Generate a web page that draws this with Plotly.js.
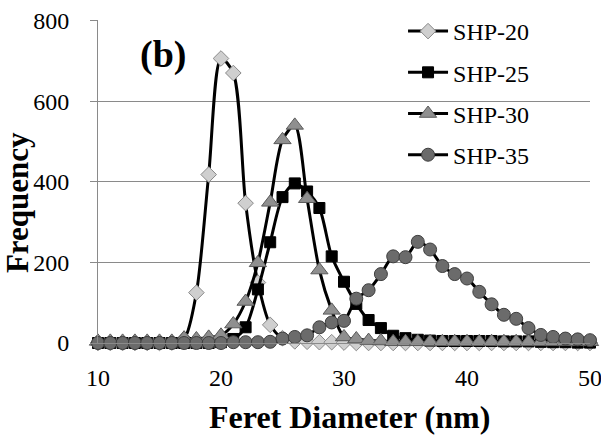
<!DOCTYPE html>
<html>
<head>
<meta charset="utf-8">
<script src="https://cdn.plot.ly/plotly-3.0.1.min.js"></script>
<style>html,body{margin:0;padding:0;background:#fff;}#chart{width:601px;height:438px;}</style>
</head>
<body>
<div id="chart"></div>
<script>
// Feret diameter bins (nm)
const diameter = [10,11,12,13,14,15,16,17,18,19,20,21,22,23,24,25,26,27,28,29,30,31,32,33,34,35,36,37,38,39,40,41,42,43,44,45,46,47,48,49,50];

const shp20 = [0,0,0,0,0,0,1,10,125,418,706,670,347,150,45,12,4,3,2,2,1,0,0,0,0,0,0,0,0,0,0,0,0,0,0,0,0,0,0,0,0];
const shp25 = [0,0,0,0,0,0,0,0,0,0,2,10,39,133,250,362,396,376,335,215,152,97,57,37,18,12,8,6,5,5,5,5,5,4,4,4,3,2,2,1,1];
const shp30 = [4,4,4,4,4,4,4,12,10,14,19,47,103,199,349,504,540,358,181,81,15,10,6,5,3,3,3,3,3,3,3,3,3,3,3,3,3,3,3,3,3];
const shp35 = [0,0,0,0,0,0,0,0,0,0,0,2,2,2,3,11,15,19,39,51,55,110,131,171,215,213,251,232,191,171,160,127,96,70,60,37,20,15,11,9,7];

const seriesNames = ["SHP-20","SHP-25","SHP-30","SHP-35"];
const yTicks = [0,200,400,600,800];
const xTicks = [10,20,30,40,50];
const xTitle = "Feret Diameter (nm)";
const yTitle = "Frequency";
const panelLabel = "(b)";

const serif = "Liberation Serif";

const markerStyles = [
  {symbol:"diamond", size:12, color:"#cfcfcf", line:{color:"#8a8a8a", width:1}},
  {symbol:"square", size:11, color:"#000000", line:{color:"#000000", width:1}},
  {symbol:"triangle-up", size:15, color:"#8f8f8f", line:{color:"#5a5a5a", width:1}},
  {symbol:"circle", size:13, color:"#6b6b6b", line:{color:"#3e3e3e", width:1}}
];
const allY = [shp20, shp25, shp30, shp35];

const traces = allY.map((ys, i) => ({
  x: diameter,
  y: ys,
  name: seriesNames[i],
  legendgroup: "g" + i,
  type: "scatter",
  mode: "lines+markers",
  cliponaxis: false,
  line: {color: "#000000", width: 3, shape: "spline", smoothing: 0.8},
  marker: markerStyles[i]
}));

const layout = {
  width: 601,
  height: 438,
  margin: {l: 98, r: 11, t: 9, b: 95},
  paper_bgcolor: "#ffffff",
  plot_bgcolor: "#ffffff",
  font: {family: serif, color: "#000000", size: 24},
  showlegend: true,
  legend: {
    x: 0.62, y: 1.034, xanchor: "left", yanchor: "top",
    bgcolor: "rgba(0,0,0,0)",
    font: {family: serif, size: 24, color: "#000"},
    tracegroupgap: 7,
    itemwidth: 40
  },
  xaxis: {
    range: [10, 50],
    tickvals: xTicks,
    ticktext: xTicks.map(String),
    ticks: "",
    showgrid: false,
    zeroline: false,
    showline: true,
    linecolor: "#8a8a8a",
    linewidth: 1,
    ticklabelstandoff: 13,
    ticklabeloverflow: "allow",
    tickfont: {family: serif, size: 24, color: "#000"},
    automargin: false
  },
  yaxis: {
    range: [0, 801.5],
    tickvals: yTicks,
    ticktext: yTicks.map(String),
    ticks: "outside",
    ticklen: 7,
    tickcolor: "#8a8a8a",
    showgrid: true,
    gridcolor: "#8a8a8a",
    gridwidth: 1,
    zeroline: false,
    showline: true,
    linecolor: "#8a8a8a",
    linewidth: 1,
    ticklabelstandoff: 16,
    ticklabeloverflow: "allow",
    tickfont: {family: serif, size: 24, color: "#000"},
    automargin: false
  },
  annotations: [
    {
      xref: "paper", yref: "paper", x: 0.132, y: 0.892,
      xanchor: "center", yanchor: "middle",
      text: "<b>" + panelLabel + "</b>", showarrow: false,
      font: {family: serif, size: 38, color: "#000"}
    },
    {
      xref: "paper", yref: "paper", x: 0.512, y: -0.23,
      xanchor: "center", yanchor: "middle",
      text: "<b>" + xTitle + "</b>", showarrow: false,
      font: {family: serif, size: 32, color: "#000"}
    },
    {
      xref: "paper", yref: "paper", x: -0.162, y: 0.434,
      xanchor: "center", yanchor: "middle", textangle: -90,
      text: "<b>" + yTitle + "</b>", showarrow: false,
      font: {family: serif, size: 31, color: "#000"}
    }
  ]
};

Plotly.newPlot("chart", traces, layout, {displayModeBar: false, staticPlot: true});
</script>
</body>
</html>
